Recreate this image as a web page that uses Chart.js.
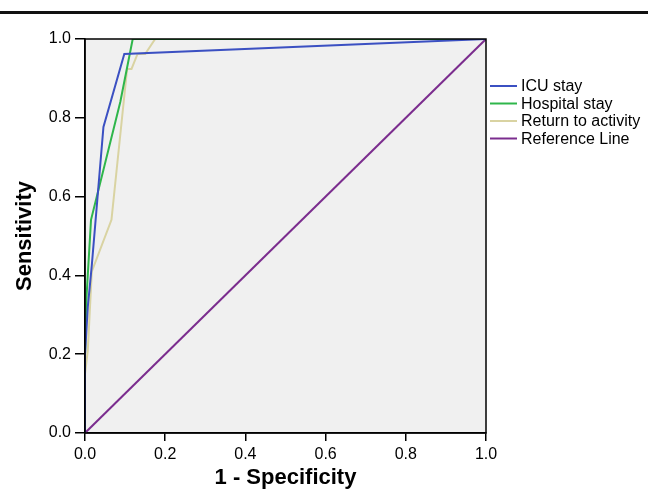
<!DOCTYPE html>
<html>
<head>
<meta charset="utf-8">
<script src="https://cdn.jsdelivr.net/npm/chart.js@4.4.0/dist/chart.umd.min.js"></script>
<style>
  html, body { margin: 0; padding: 0; background: #ffffff; }
  #wrap { width: 648px; height: 493px; position: relative; }
</style>
</head>
<body>
<div id="wrap"><canvas id="rocChart" width="648" height="493"></canvas></div>
<script>
// --- dados (1 - especificidade, sensibilidade) ---
const seriesNames = ['ICU stay', 'Hospital stay', 'Return to activity', 'Reference Line'];
const icuX = [0, 0, 0.007, 0.017, 0.046, 0.098, 1];
const icuY = [0, 0.2, 0.32, 0.426, 0.777, 0.962, 1];
const hospX = [0, 0, 0.004, 0.015, 0.088, 0.119, 1];
const hospY = [0, 0.2, 0.35, 0.541, 0.84, 1, 1];
const returnX = [0, 0, 0.007, 0.017, 0.066, 0.105, 0.116, 0.131, 0.15, 0.175, 1];
const returnY = [0, 0.15, 0.21, 0.41, 0.541, 0.924, 0.924, 0.962, 0.962, 1, 1];
const refX = [0, 1];
const refY = [0, 1];
const tickValues = [0, 0.2, 0.4, 0.6, 0.8, 1.0];

const seriesColors = ['#3b50c2', '#2fb64b', '#d9d3a2', '#7b2d8e'];
const FONT = '"Liberation Sans", Arial, Helvetica, sans-serif';

function toPoints(xs, ys) {
    return xs.map((x, i) => ({ x: x, y: ys[i] }));
}

const allX = [icuX, hospX, returnX, refX];
const allY = [icuY, hospY, returnY, refY];

const datasets = seriesNames.map((name, i) => ({
    label: name,
    data: toPoints(allX[i], allY[i]),
    borderColor: seriesColors[i],
    backgroundColor: seriesColors[i],
    borderWidth: 2,
    pointRadius: 0,
    showLine: true,
    tension: 0
}));

// fundo cinza da área do gráfico, moldura e linha preta no topo
const framePlugin = {
    id: 'frame',
    beforeDraw(chart) {
        const { ctx, chartArea: a } = chart;
        ctx.save();
        ctx.fillStyle = '#f0f0f0';
        ctx.fillRect(a.left, a.top, a.right - a.left, a.bottom - a.top);
        ctx.fillStyle = '#111111';
        ctx.fillRect(0, 11, chart.width, 3);
        ctx.restore();
    },
    afterDraw(chart) {
        const { ctx, chartArea: a } = chart;
        ctx.save();
        ctx.strokeStyle = '#000000';
        ctx.lineWidth = 1.5;
        ctx.strokeRect(a.left, a.top, a.right - a.left, a.bottom - a.top);
        ctx.restore();
    }
};

// legenda desenhada à direita, como na figura original
const legendPlugin = {
    id: 'sideLegend',
    afterDraw(chart) {
        const { ctx } = chart;
        const x0 = 490, x1 = 517, tx = 521;
        let y = 86;
        ctx.save();
        ctx.font = '16px ' + FONT;
        ctx.textBaseline = 'middle';
        ctx.textAlign = 'left';
        chart.data.datasets.forEach(ds => {
            ctx.strokeStyle = ds.borderColor;
            ctx.lineWidth = 2;
            ctx.beginPath();
            ctx.moveTo(x0, y);
            ctx.lineTo(x1, y);
            ctx.stroke();
            ctx.fillStyle = '#000000';
            ctx.fillText(ds.label, tx, y + 1);
            y += 17.5;
        });
        ctx.restore();
    }
};

function axisOptions(title, tickLen, fitSize, horizontal) {
    return {
        type: 'linear',
        min: 0,
        max: 1,
        afterBuildTicks: scale => { scale.ticks = tickValues.map(v => ({ value: v })); },
        afterFit: scale => {
            if (horizontal) scale.height = fitSize; else scale.width = fitSize;
        },
        ticks: {
            color: '#000000',
            font: { family: FONT, size: 16 },
            padding: horizontal ? 4 : 4,
            callback: v => Number(v).toFixed(1),
            maxRotation: 0
        },
        grid: {
            drawOnChartArea: false,
            drawTicks: true,
            tickLength: tickLen,
            color: '#000000',
            lineWidth: 1.5
        },
        border: { display: true, color: '#000000', width: 1.5 },
        title: {
            display: true,
            text: title,
            color: '#000000',
            font: { family: FONT, size: 22, weight: 'bold' },
            padding: horizontal ? { top: 0, bottom: 2 } : { top: 12, bottom: 0 }
        }
    };
}

new Chart(document.getElementById('rocChart').getContext('2d'), {
    type: 'scatter',
    data: { datasets: datasets },
    options: {
        responsive: false,
        animation: false,
        layout: { padding: { top: 39, right: 162, bottom: 0, left: 0 } },
        plugins: {
            legend: { display: false },
            tooltip: { enabled: false }
        },
        scales: {
            x: axisOptions('1 - Specificity', 8, 60, true),
            y: axisOptions('Sensitivity', 10, 85, false)
        }
    },
    plugins: [framePlugin, legendPlugin]
});
</script>
</body>
</html>
